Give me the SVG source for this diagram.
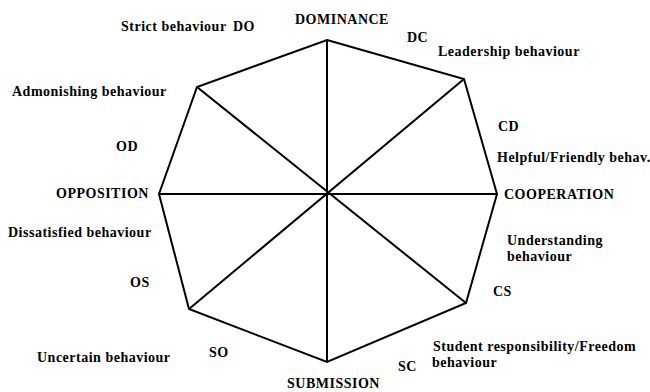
<svg xmlns="http://www.w3.org/2000/svg" width="650" height="392" viewBox="0 0 650 392">
<style>
text{font-family:'Liberation Serif','DejaVu Serif','Times New Roman',serif;font-weight:bold;font-size:14px;fill:#000;letter-spacing:0.5px}
.ln{stroke:#000;stroke-width:2;fill:none;stroke-linejoin:miter}
</style>
<rect width="650" height="392" fill="#fff"/>
<g id="connectors">
<polygon class="ln" points="327,40 464,79 497,194 466,303 327,362 189,309 159,194 197,87"/>
<line class="ln" x1="327" y1="40" x2="327" y2="362"/>
<line class="ln" x1="159" y1="194" x2="497" y2="194"/>
<line class="ln" x1="197" y1="87" x2="466" y2="303"/>
<line class="ln" x1="464" y1="79" x2="189" y2="309"/>
</g>
<g id="dominance"><text x="295" y="24">DOMINANCE</text></g>
<g id="dc"><text x="407" y="42">DC</text><text x="438" y="56">Leadership behaviour</text></g>
<g id="cd"><text x="498" y="131">CD</text><text x="497" y="162">Helpful/Friendly behav.</text></g>
<g id="cooperation"><text x="504" y="199">COOPERATION</text></g>
<g id="cs"><text x="507" y="245">Understanding</text><text x="507" y="261">behaviour</text><text x="493" y="296">CS</text></g>
<g id="sc"><text x="433" y="351">Student responsibility/Freedom</text><text x="432" y="367">behaviour</text><text x="398" y="371">SC</text></g>
<g id="submission"><text x="287" y="388">SUBMISSION</text></g>
<g id="so"><text x="209" y="357">SO</text><text x="37" y="362">Uncertain behaviour</text></g>
<g id="os"><text x="130" y="287">OS</text><text x="8" y="237">Dissatisfied behaviour</text></g>
<g id="opposition"><text x="56" y="198">OPPOSITION</text></g>
<g id="od"><text x="116" y="151">OD</text><text x="12" y="96">Admonishing behaviour</text></g>
<g id="do"><text x="121" y="31">Strict behaviour</text><text x="233" y="31">DO</text></g>
</svg>
